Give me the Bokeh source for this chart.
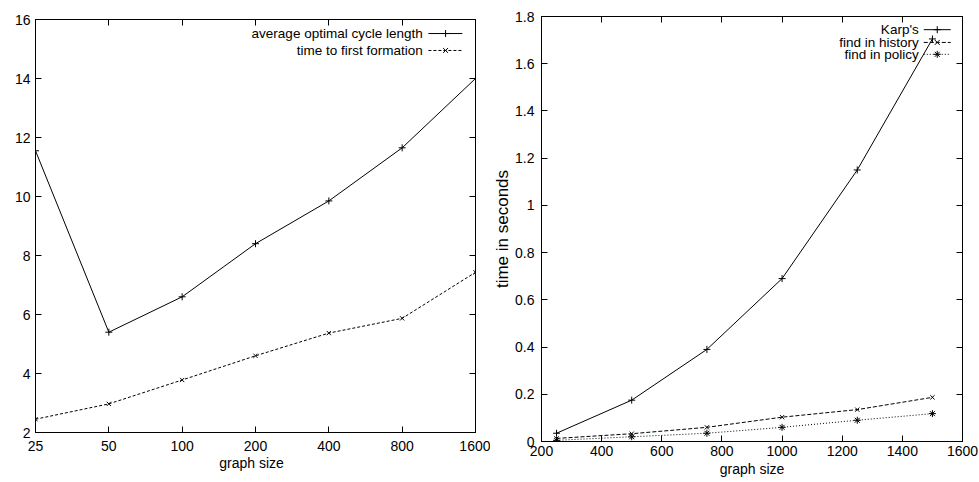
import math
from bokeh.plotting import figure
from bokeh.models import FixedTicker, LinearAxis, LogAxis, Range1d
from bokeh.layouts import row, column
from bokeh.core.properties import value
from bokeh.embed import file_html
from bokeh.resources import INLINE

# ---------------- data: left chart ----------------
graph_sizes_left = [25, 50, 100, 200, 400, 800, 1600]
avg_optimal_cycle_length = [11.55, 5.4, 6.6, 8.4, 9.85, 11.65, 14.0]
time_to_first_formation = [2.45, 2.97, 3.78, 4.6, 5.37, 5.87, 7.43]
left_x_tick_labels = ["25", "50", "100", "200", "400", "800", "1600"]
left_y_ticks = [2, 4, 6, 8, 10, 12, 14, 16]
left_y_tick_labels = ["2", "4", "6", "8", "10", "12", "14", "16"]

# ---------------- data: right chart ----------------
graph_sizes_right = [250, 500, 750, 1000, 1250, 1500]
karps = [0.035, 0.175, 0.39, 0.69, 1.15, 1.705]
find_in_history = [0.013, 0.033, 0.06, 0.103, 0.135, 0.187]
find_in_policy = [0.005, 0.02, 0.035, 0.06, 0.09, 0.118]
right_x_ticks = [200, 400, 600, 800, 1000, 1200, 1400, 1600]
right_x_tick_labels = ["200", "400", "600", "800", "1000", "1200", "1400", "1600"]
right_y_ticks = [0, 0.2, 0.4, 0.6, 0.8, 1.0, 1.2, 1.4, 1.6, 1.8]
right_y_tick_labels = ["0", "0.2", "0.4", "0.6", "0.8", "1", "1.2", "1.4", "1.6", "1.8"]

FONT = "Liberation Sans"
FONT_V = value(FONT)
TICK_FS = "14px"
LABEL_FS = "14px"
LEG_FS = "13.5px"


def style_axis(ax, ticks, labels, show_labels=True, standoff=5):
    ax.ticker = FixedTicker(ticks=ticks)
    ax.major_label_overrides = {t: (l if show_labels else "") for t, l in zip(ticks, labels)}
    ax.major_tick_in = 6
    ax.major_tick_out = 0
    ax.minor_tick_line_color = None
    ax.axis_line_color = "black"
    ax.major_tick_line_color = "black"
    ax.major_label_text_font = FONT
    ax.major_label_text_font_size = TICK_FS if show_labels else "1px"
    ax.major_label_text_color = "black"
    ax.major_label_standoff = standoff if show_labels else 0
    ax.axis_label_text_font = FONT
    ax.axis_label_text_font_size = LABEL_FS
    ax.axis_label_text_font_style = "normal"
    ax.axis_label_text_color = "black"


def base_fig(width, height, xr, yr, x_type, mb):
    p = figure(width=width, height=height, x_range=xr, y_range=yr,
               x_axis_type=x_type, output_backend="svg", toolbar_location=None,
               min_border_left=mb[0], min_border_right=mb[1],
               min_border_top=mb[2], min_border_bottom=mb[3])
    p.grid.visible = False
    p.outline_line_color = "black"
    p.outline_line_alpha = 1
    p.outline_line_width = 1
    p.background_fill_color = "white"
    p.border_fill_color = "white"
    return p


def legend_row(p, text, y, xt, xs0, xs1, xm, dash, marker):
    p.text(x=[xt], y=[y], text=[text], text_align="right", text_baseline="middle",
           text_font=FONT_V, text_font_size=LEG_FS, text_color="black")
    p.segment(x0=[xs0], y0=[y], x1=[xs1], y1=[y], line_color="black", line_width=1,
              line_dash=dash)
    p.scatter(x=[xm], y=[y], marker=marker, size=7, line_color="black",
              fill_color=None, line_width=1)


# ---------------- left figure ----------------
p1 = base_fig(490, 482, Range1d(25, 1600), Range1d(2, 16), "log", (35, 15, 19, 50))
style_axis(p1.xaxis[0], graph_sizes_left, left_x_tick_labels, standoff=8)
p1.xaxis[0].axis_label = "graph   size"
p1.xaxis[0].axis_label_standoff = 1
style_axis(p1.yaxis[0], left_y_ticks, left_y_tick_labels, standoff=5)
top1 = LogAxis()
style_axis(top1, graph_sizes_left, left_x_tick_labels, show_labels=False)
p1.add_layout(top1, "above")
right1 = LinearAxis()
style_axis(right1, left_y_ticks, left_y_tick_labels, show_labels=False)
p1.add_layout(right1, "right")

p1.line(graph_sizes_left, avg_optimal_cycle_length, line_color="black", line_width=1)
p1.scatter(graph_sizes_left, avg_optimal_cycle_length, marker="cross", size=7,
           line_color="black", line_width=1)
p1.line(graph_sizes_left, time_to_first_formation, line_color="black", line_width=1,
        line_dash="3 2")
p1.scatter(graph_sizes_left, time_to_first_formation, marker="x", size=6,
           line_color="black", line_width=1)

# legend (gnuplot style: text, then line sample) positioned by frame fractions
lx0, lx1 = math.log10(25), math.log10(1600)
def lfx(f):
    return 10 ** (lx0 + f * (lx1 - lx0))
def lfy(f):
    return 16 - f * 14
legend_row(p1, "average optimal cycle length", lfy(0.034), lfx(0.880), lfx(0.893), lfx(0.970), lfx(0.932), "solid", "cross")
legend_row(p1, "time to first formation", lfy(0.075), lfx(0.880), lfx(0.893), lfx(0.970), lfx(0.932), "3 2", "x")

# ---------------- right figure ----------------
p2 = base_fig(488, 482, Range1d(200, 1600), Range1d(0, 1.8), "linear", (50, 16, 16, 41))
style_axis(p2.xaxis[0], right_x_ticks, right_x_tick_labels, standoff=4)
p2.xaxis[0].axis_label = "graph size"
p2.xaxis[0].axis_label_standoff = 2
style_axis(p2.yaxis[0], right_y_ticks, right_y_tick_labels, standoff=7)
p2.yaxis[0].axis_label = "time in seconds"
p2.yaxis[0].axis_label_standoff = 0
p2.yaxis[0].axis_label_text_font_size = "17px"
top2 = LinearAxis()
style_axis(top2, right_x_ticks, right_x_tick_labels, show_labels=False)
p2.add_layout(top2, "above")
right2 = LinearAxis()
style_axis(right2, right_y_ticks, right_y_tick_labels, show_labels=False)
p2.add_layout(right2, "right")

p2.line(graph_sizes_right, karps, line_color="black", line_width=1)
p2.scatter(graph_sizes_right, karps, marker="cross", size=7, line_color="black", line_width=1)
p2.line(graph_sizes_right, find_in_history, line_color="black", line_width=1, line_dash="4 2")
p2.scatter(graph_sizes_right, find_in_history, marker="x", size=6, line_color="black", line_width=1)
p2.line(graph_sizes_right, find_in_policy, line_color="black", line_width=1, line_dash="1 2")
p2.scatter(graph_sizes_right, find_in_policy, marker="asterisk", size=7, line_color="black", line_width=1)

def rfx(f):
    return 200 + f * 1400
def rfy(f):
    return 1.8 - f * 1.8
legend_row(p2, "Karp's", rfy(0.031), rfx(0.896), rfx(0.908), rfx(0.972), rfx(0.940), "solid", "cross")
legend_row(p2, "find in history", rfy(0.061), rfx(0.896), rfx(0.908), rfx(0.972), rfx(0.940), "4 2", "x")
legend_row(p2, "find in policy", rfy(0.089), rfx(0.896), rfx(0.908), rfx(0.972), rfx(0.940), "1 2", "asterisk")

layout = row(column(p1), column(p2))
open("out.html", "w").write(file_html(layout, INLINE))
